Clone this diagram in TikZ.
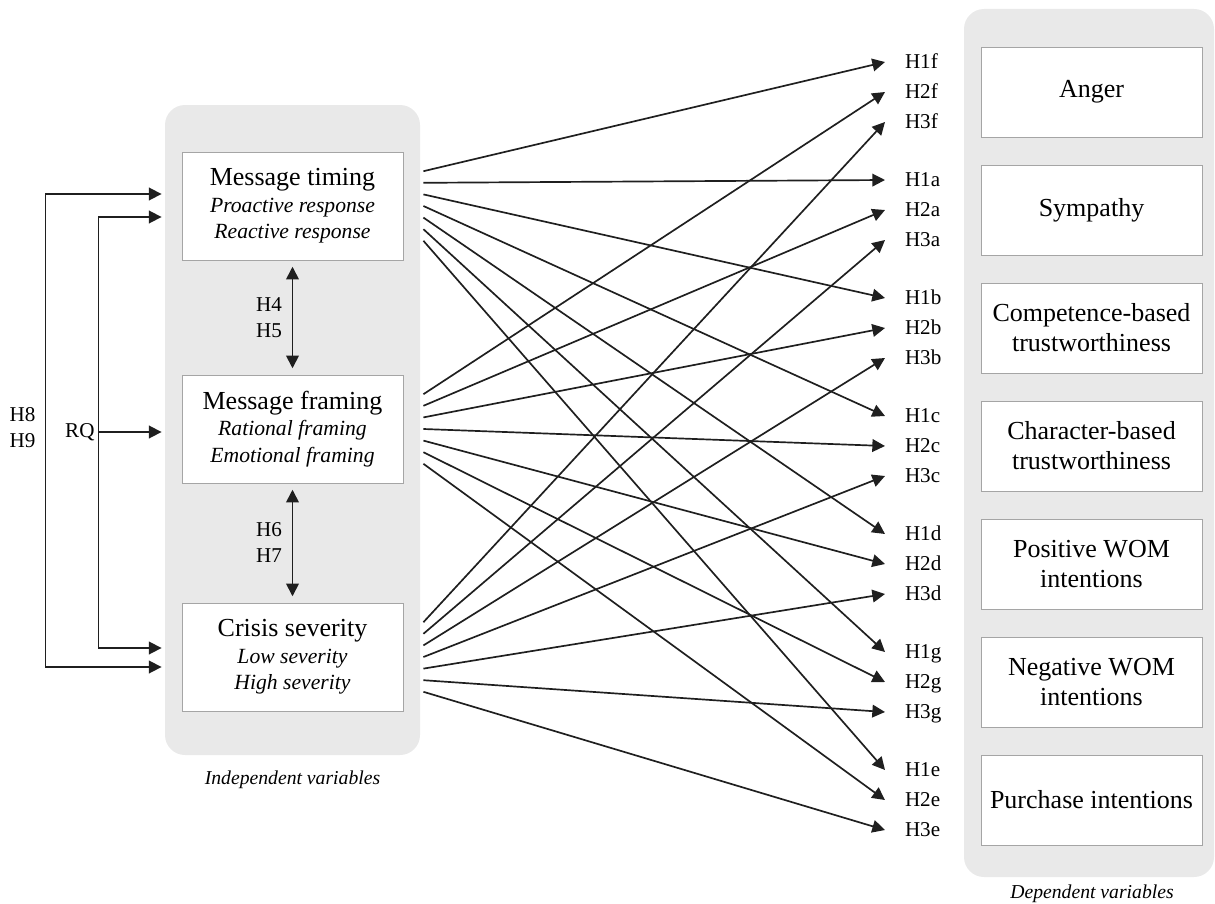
\documentclass[tikz,border=0pt]{standalone}
\usepackage{fontspec}
\setmainfont{Liberation Serif}
\usetikzlibrary{arrows.meta,calc}
\definecolor{panelgray}{RGB}{233,233,233}
\definecolor{boxgray}{RGB}{165,165,165}
\newcommand{\varlevel}{\fontsize{15.4}{18.8}\selectfont\itshape}

\tikzset{
	panel/.style={fill=panelgray, rounded corners=0.5cm, inner sep=0pt},
	ivbox/.style={draw=boxgray, line width=0.6pt, fill=white, minimum width=5.525cm, minimum height=2.7cm, align=center, font=\fontsize{18.5}{18.8}\selectfont},
	dvbox/.style={draw=boxgray, line width=0.6pt, fill=white, minimum width=5.525cm, minimum height=2.25cm, align=center, font=\fontsize{18.5}{21.3}\selectfont},
	hyp/.style={anchor=west, inner xsep=0.5cm, inner ysep=0pt, outer sep=0pt, text height=9.9pt, text depth=0pt, font=\fontsize{15}{18}\selectfont},
	lab/.style={align=center, inner sep=3pt, font=\fontsize{15}{18.5}\selectfont},
	note/.style={font=\fontsize{14}{16}\selectfont\itshape},
	arr/.style={-{Triangle[length=9pt,width=9pt]}, line width=1.2pt, draw=black!88},
	dblarr/.style={{Triangle[length=9pt,width=9pt]}-{Triangle[length=9pt,width=9pt]}, line width=1.2pt, draw=black!88}
}

\begin{document}
\begin{tikzpicture}
	\useasboundingbox (0,0) rectangle (30.375,-22.575);
	% grey panels
	\node[panel, minimum width=6.375cm, minimum height=16.25cm] (indep) at (7.3125,-10.75) {};
	\node[panel, minimum width=6.25cm, minimum height=21.7cm] (dep) at (27.225,-11.075) {};
	\node[note] (ivlab) at (7.3125,-19.5) {Independent variables};
	\node[note] (dvlab) at (27.3,-22.35) {Dependent variables};

	% independent variables
	\node[ivbox] (timing) at (7.3125,-5.15) {Message timing\\{\varlevel Proactive response}\\{\varlevel Reactive response}};
	\node[ivbox] (framing) at (7.3125,-10.725) {Message framing\\{\varlevel Rational framing}\\{\varlevel Emotional framing}};
	\node[ivbox] (severity) at (7.3125,-16.425) {Crisis severity\\{\varlevel Low severity}\\{\varlevel High severity}};

	\draw[dblarr, shorten <=4.5pt, shorten >=4.5pt] (timing.south) -- node[lab, left=4pt] (h45) {H4\\H5} (framing.north);
	\draw[dblarr, shorten <=4.5pt, shorten >=4.5pt] (framing.south) -- node[lab, left=4pt] (h67) {H6\\H7} (severity.north);

	% interaction paths on the left
	\draw[dblarr] ($(timing.west)+(-0.5,0.3)$) -- ++(-2.9,0) |- ($(severity.west)+(-0.5,-0.25)$);
	\draw[dblarr] ($(timing.west)+(-0.5,-0.275)$) -- ++(-1.575,0) |- ($(severity.west)+(-0.5,0.225)$);
	\coordinate (rq) at (2.475,-10.8);
	\draw[arr] (rq) -- ($(framing.west)+(-0.5,-0.075)$);
	\node[lab, left] (rqlab) at (rq) {RQ};
	\node[lab, anchor=east] (h89) at (1.0,-10.7) {H8\\H9};

	% dependent variables
	\node[dvbox] (anger) at (27.2875,-2.3) {Anger};
	\node[dvbox] (sympathy) at (27.2875,-5.25) {Sympathy};
	\node[dvbox] (competence) at (27.2875,-8.2) {Competence-based\\trustworthiness};
	\node[dvbox] (character) at (27.2875,-11.15) {Character-based\\trustworthiness};
	\node[dvbox] (poswom) at (27.2875,-14.1) {Positive WOM\\intentions};
	\node[dvbox] (negwom) at (27.2875,-17.05) {Negative WOM\\intentions};
	\node[dvbox] (purchase) at (27.2875,-20.0) {Purchase intentions};

	% hypotheses
	\node[hyp] (H1f) at (22.125,-1.55) {H1f};
	\node[hyp] (H2f) at (22.125,-2.3) {H2f};
	\node[hyp] (H3f) at (22.125,-3.05) {H3f};
	\node[hyp] (H1a) at (22.125,-4.5) {H1a};
	\node[hyp] (H2a) at (22.125,-5.25) {H2a};
	\node[hyp] (H3a) at (22.125,-6.0) {H3a};
	\node[hyp] (H1b) at (22.125,-7.45) {H1b};
	\node[hyp] (H2b) at (22.125,-8.2) {H2b};
	\node[hyp] (H3b) at (22.125,-8.95) {H3b};
	\node[hyp] (H1c) at (22.125,-10.4) {H1c};
	\node[hyp] (H2c) at (22.125,-11.15) {H2c};
	\node[hyp] (H3c) at (22.125,-11.9) {H3c};
	\node[hyp] (H1d) at (22.125,-13.35) {H1d};
	\node[hyp] (H2d) at (22.125,-14.1) {H2d};
	\node[hyp] (H3d) at (22.125,-14.85) {H3d};
	\node[hyp] (H1g) at (22.125,-16.3) {H1g};
	\node[hyp] (H2g) at (22.125,-17.05) {H2g};
	\node[hyp] (H3g) at (22.125,-17.8) {H3g};
	\node[hyp] (H1e) at (22.125,-19.25) {H1e};
	\node[hyp] (H2e) at (22.125,-20.0) {H2e};
	\node[hyp] (H3e) at (22.125,-20.75) {H3e};

	% message timing
	\draw[arr] ($(timing.east)+(0.5,0.87)$) -- (H1f.west);
	\draw[arr] ($(timing.east)+(0.5,0.58)$) -- (H1a.west);
	\draw[arr] ($(timing.east)+(0.5,0.29)$) -- (H1b.west);
	\draw[arr] ($(timing.east)+(0.5,0)$) -- (H1c.west);
	\draw[arr] ($(timing.east)+(0.5,-0.29)$) -- (H1d.west);
	\draw[arr] ($(timing.east)+(0.5,-0.58)$) -- (H1g.west);
	\draw[arr] ($(timing.east)+(0.5,-0.87)$) -- (H1e.west);
	% message framing
	\draw[arr] ($(framing.east)+(0.5,0.87)$) -- (H2f.west);
	\draw[arr] ($(framing.east)+(0.5,0.58)$) -- (H2a.west);
	\draw[arr] ($(framing.east)+(0.5,0.29)$) -- (H2b.west);
	\draw[arr] ($(framing.east)+(0.5,0)$) -- (H2c.west);
	\draw[arr] ($(framing.east)+(0.5,-0.29)$) -- (H2d.west);
	\draw[arr] ($(framing.east)+(0.5,-0.58)$) -- (H2g.west);
	\draw[arr] ($(framing.east)+(0.5,-0.87)$) -- (H2e.west);
	% crisis severity
	\draw[arr] ($(severity.east)+(0.5,0.87)$) -- (H3f.west);
	\draw[arr] ($(severity.east)+(0.5,0.58)$) -- (H3a.west);
	\draw[arr] ($(severity.east)+(0.5,0.29)$) -- (H3b.west);
	\draw[arr] ($(severity.east)+(0.5,0)$) -- (H3c.west);
	\draw[arr] ($(severity.east)+(0.5,-0.29)$) -- (H3d.west);
	\draw[arr] ($(severity.east)+(0.5,-0.58)$) -- (H3g.west);
	\draw[arr] ($(severity.east)+(0.5,-0.87)$) -- (H3e.west);
\end{tikzpicture}
\end{document}
